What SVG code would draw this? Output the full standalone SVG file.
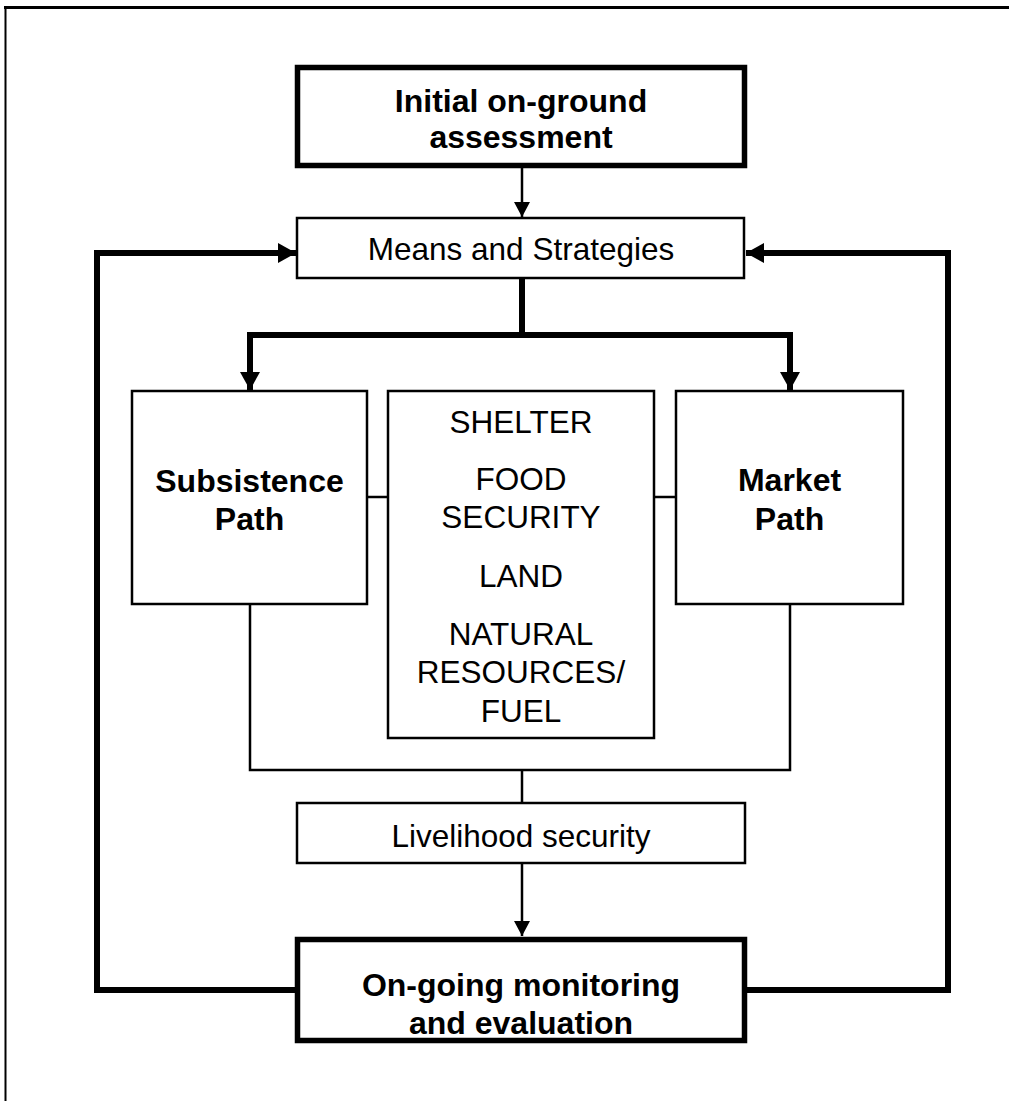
<svg xmlns="http://www.w3.org/2000/svg" width="1009" height="1101" viewBox="0 0 1009 1101">
  <style>
    .frame { fill: none; stroke: #000; }
    .box { fill: #fff; stroke: #000; stroke-width: 2.5; }
    .box-thick { fill: #fff; stroke: #000; stroke-width: 5.5; }
    .t { font-family: "Liberation Sans", Arial, sans-serif; font-size: 31.5px; fill: #000; text-anchor: middle; }
    .b { font-weight: bold; font-size: 32px; }
    .thin { fill: none; stroke: #000; stroke-width: 2.5; }
    .thick { fill: none; stroke: #000; stroke-width: 6; }
  </style>
  <defs>
    <marker id="arrow-thin" viewBox="0 0 15 16" refX="15" refY="8" markerWidth="15" markerHeight="16" markerUnits="userSpaceOnUse" orient="auto">
      <path d="M0,0 L15,8 L0,16 Z" fill="#000"/>
    </marker>
    <marker id="arrow-thick" viewBox="0 0 18 20" refX="18" refY="10" markerWidth="18" markerHeight="20" markerUnits="userSpaceOnUse" orient="auto">
      <path d="M0,0 L18,10 L0,20 Z" fill="#000"/>
    </marker>
  </defs>

  <rect width="1009" height="1101" fill="#fff"/>

  <!-- page frame, open to the right and bottom -->
  <g id="frame">
    <line class="frame" x1="4" y1="7.5" x2="1009" y2="7.5" stroke-width="3"/>
    <line class="frame" x1="5.5" y1="6" x2="5.5" y2="1101" stroke-width="2"/>
  </g>

  <g id="connectors">
    <!-- assessment to means -->
    <line class="thin" x1="522" y1="167" x2="522" y2="217" marker-end="url(#arrow-thin)"/>
    <!-- feedback loops from monitoring back to means -->
    <polyline class="thick" points="295,990 97,990 97,253 296,253" marker-end="url(#arrow-thick)"/>
    <polyline class="thick" points="747,990 948,990 948,253 746,253" marker-end="url(#arrow-thick)"/>
    <!-- means splits into the two paths -->
    <line class="thick" x1="522" y1="278" x2="522" y2="335"/>
    <line class="thick" x1="247" y1="335" x2="793" y2="335"/>
    <polyline class="thick" points="250,335 250,390" marker-end="url(#arrow-thick)"/>
    <polyline class="thick" points="790,335 790,390" marker-end="url(#arrow-thick)"/>
    <!-- paths tied to the needs box -->
    <line class="thin" x1="367" y1="497" x2="388" y2="497"/>
    <line class="thin" x1="654" y1="497" x2="676" y2="497"/>
    <!-- paths merge into livelihood security -->
    <polyline class="thin" points="250,604 250,770 790,770 790,604"/>
    <line class="thin" x1="522" y1="770" x2="522" y2="803"/>
    <line class="thin" x1="522" y1="863" x2="522" y2="936" marker-end="url(#arrow-thin)"/>
  </g>

  <g id="initial-assessment">
    <rect class="box-thick" x="297.5" y="67.5" width="447" height="98"/>
    <text class="t b" x="521" y="112">Initial on-ground</text>
    <text class="t b" x="521" y="148">assessment</text>
  </g>

  <g id="means-strategies">
    <rect class="box" x="297" y="218" width="447" height="60"/>
    <text class="t" x="521" y="260">Means and Strategies</text>
  </g>

  <g id="subsistence-path">
    <rect class="box" x="132" y="391" width="235" height="213"/>
    <text class="t b" x="249.5" y="492">Subsistence</text>
    <text class="t b" x="249.5" y="530">Path</text>
  </g>

  <g id="needs">
    <rect class="box" x="388" y="391" width="266" height="347"/>
    <text class="t" x="521" y="433">SHELTER</text>
    <text class="t" x="521" y="490">FOOD</text>
    <text class="t" x="521" y="528">SECURITY</text>
    <text class="t" x="521" y="587">LAND</text>
    <text class="t" x="521" y="645">NATURAL</text>
    <text class="t" x="521" y="683">RESOURCES/</text>
    <text class="t" x="521" y="722">FUEL</text>
  </g>

  <g id="market-path">
    <rect class="box" x="676" y="391" width="227" height="213"/>
    <text class="t b" x="789.5" y="491">Market</text>
    <text class="t b" x="789.5" y="530">Path</text>
  </g>

  <g id="livelihood-security">
    <rect class="box" x="297" y="803" width="448" height="60"/>
    <text class="t" x="521" y="847">Livelihood security</text>
  </g>

  <g id="monitoring-evaluation">
    <rect class="box-thick" x="297.5" y="939.5" width="447" height="101"/>
    <text class="t b" x="521" y="996">On-going monitoring</text>
    <text class="t b" x="521" y="1034">and evaluation</text>
  </g>
</svg>
